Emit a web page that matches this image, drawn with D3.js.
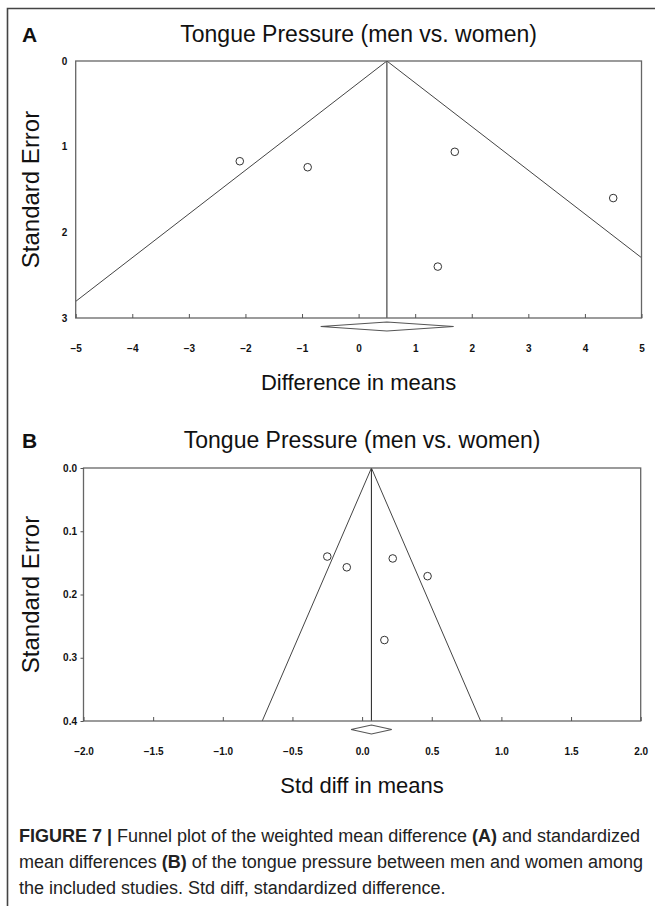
<!DOCTYPE html>
<html><head><meta charset="utf-8">
<script src="https://cdn.jsdelivr.net/npm/d3@7/dist/d3.min.js"></script>
<style>
html,body{margin:0;padding:0;background:#fff;}
svg{display:block;}
</style></head>
<body>
<svg id="chart" width="655" height="906"></svg>
<script>
// ---------- data ----------
const titleText = "Tongue Pressure (men vs. women)";
// Panel A: difference in means
const aTicksX = [-5, -4, -3, -2, -1, 0, 1, 2, 3, 4, 5];
const aTicksY = [0, 1, 2, 3];
const aEffect = [-2.1, -0.9, 1.7, 4.5, 1.4];
const aSE = [1.17, 1.24, 1.06, 1.60, 2.40];
const aMean = 0.5;
const aCI = [-0.67, 1.68];
// Panel B: standardized difference in means
const bTicksX = [-2.0, -1.5, -1.0, -0.5, 0.0, 0.5, 1.0, 1.5, 2.0];
const bTicksY = [0.0, 0.1, 0.2, 0.3, 0.4];
const bEffect = [-0.25, -0.11, 0.22, 0.47, 0.16];
const bSE = [0.140, 0.157, 0.143, 0.171, 0.272];
const bMean = 0.067;
const bCI = [-0.079, 0.213];

const svg = d3.select("#chart");
const FONT = "'Liberation Sans', Arial, sans-serif";

// outer frame (top and left rules)
svg.append("path").attr("d", "M7.5,906 L7.5,8.5 L655,8.5")
  .attr("fill", "none").attr("stroke", "#444").attr("stroke-width", 1.6);

function panel(cfg) {
  const g = svg.append("g");
  const x = d3.scaleLinear().domain(cfg.xDomain).range([cfg.left, cfg.right]);
  const y = d3.scaleLinear().domain(cfg.yDomain).range([cfg.top, cfg.bottom]);

  // panel letter
  g.append("text").attr("x", 22).attr("y", cfg.titleY)
    .attr("font-family", FONT).attr("font-weight", 700).attr("font-size", 21)
    .attr("fill", "#111").text(cfg.letter);
  // title
  g.append("text").attr("x", (cfg.left + cfg.right) / 2).attr("y", cfg.titleY)
    .attr("text-anchor", "middle").attr("font-family", FONT).attr("font-size", 23)
    .attr("fill", "#111").text(titleText);

  // clip
  const cid = "clip" + cfg.letter;
  svg.append("clipPath").attr("id", cid).append("rect")
    .attr("x", cfg.left).attr("y", cfg.top)
    .attr("width", cfg.right - cfg.left).attr("height", cfg.bottom - cfg.top);

  // funnel lines
  const ymax = cfg.yDomain[1];
  const fun = g.append("g").attr("clip-path", `url(#${cid})`);
  [-1, 1].forEach(s => {
    fun.append("line")
      .attr("x1", x(cfg.mean)).attr("y1", y(0))
      .attr("x2", x(cfg.mean + s * 1.96 * ymax)).attr("y2", y(ymax))
      .attr("stroke", "#444").attr("stroke-width", 1);
  });
  // mean line
  g.append("line").attr("x1", x(cfg.mean)).attr("x2", x(cfg.mean))
    .attr("y1", y(0)).attr("y2", y(ymax)).attr("stroke", "#333").attr("stroke-width", 1.1);

  // box
  g.append("rect").attr("x", cfg.left).attr("y", cfg.top)
    .attr("width", cfg.right - cfg.left).attr("height", cfg.bottom - cfg.top)
    .attr("fill", "none").attr("stroke", "#666").attr("stroke-width", 1.3);

  // x axis
  const xa = g.append("g").attr("transform", `translate(0,${cfg.bottom})`)
    .call(d3.axisBottom(x).tickValues(cfg.xTicks).tickFormat(cfg.xFmt)
      .tickSizeInner(-4).tickSizeOuter(0).tickPadding(27));
  xa.select(".domain").remove();
  xa.selectAll("line").attr("stroke", "#555");
  xa.selectAll("text").attr("font-family", FONT).attr("font-weight", 700)
    .attr("font-size", 10).attr("fill", "#111");

  // y axis
  const ya = g.append("g").attr("transform", `translate(${cfg.left},0)`)
    .call(d3.axisLeft(y).tickValues(cfg.yTicks).tickFormat(cfg.yFmt)
      .tickSizeInner(cfg.yTick).tickSizeOuter(0).tickPadding(cfg.yPad));
  ya.select(".domain").remove();
  ya.selectAll("line").attr("stroke", "#555");
  ya.selectAll("text").attr("font-family", FONT).attr("font-weight", 700)
    .attr("font-size", 10).attr("fill", "#111");

  // axis titles
  g.append("text").attr("x", (cfg.left + cfg.right) / 2).attr("y", cfg.bottom + 72)
    .attr("text-anchor", "middle").attr("font-family", FONT).attr("font-size", 22)
    .attr("fill", "#111").text(cfg.xLabel);
  g.append("text")
    .attr("transform", `translate(39,${(cfg.top + cfg.bottom) / 2}) rotate(-90)`)
    .attr("text-anchor", "middle").attr("font-family", FONT).attr("font-size", 24)
    .attr("fill", "#111").text("Standard Error");

  // points
  g.selectAll("circle.pt").data(cfg.effect.map((e, i) => [e, cfg.se[i]]))
    .join("circle").attr("class", "pt")
    .attr("cx", d => x(d[0])).attr("cy", d => y(d[1])).attr("r", 3.8)
    .attr("fill", "#fff").attr("stroke", "#333").attr("stroke-width", 1);

  // summary diamond
  const dy = cfg.bottom + 8.5, h = 4.5;
  g.append("path")
    .attr("d", `M${x(cfg.ci[0])},${dy} L${x(cfg.mean)},${dy - h} L${x(cfg.ci[1])},${dy} L${x(cfg.mean)},${dy + h} Z`)
    .attr("fill", "#fff").attr("stroke", "#555").attr("stroke-width", 1.2);
}

panel({
  letter: "A", titleY: 42,
  left: 75.7, right: 641.5, top: 61, bottom: 318,
  xDomain: [-5, 5], yDomain: [0, 3],
  xTicks: aTicksX, yTicks: aTicksY,
  xFmt: d3.format("d"), yFmt: d3.format("d"),
  yTick: 0, yPad: 8.5,
  mean: aMean, ci: aCI, effect: aEffect, se: aSE,
  xLabel: "Difference in means"
});
panel({
  letter: "B", titleY: 448,
  left: 83.5, right: 640.7, top: 468, bottom: 721,
  xDomain: [-2, 2], yDomain: [0, 0.4],
  xTicks: bTicksX, yTicks: bTicksY,
  xFmt: d3.format(".1f"), yFmt: d3.format(".1f"),
  yTick: 3, yPad: 3.5,
  mean: bMean, ci: bCI, effect: bEffect, se: bSE,
  xLabel: "Std diff in means"
});

// caption
const capLines = [
  [["FIGURE 7 | ", true], ["Funnel plot of the weighted mean difference ", false], ["(A)", true], [" and standardized", false]],
  [["mean differences ", false], ["(B)", true], [" of the tongue pressure between men and women among", false]],
  [["the included studies. Std diff, standardized difference.", false]]
];
const capY = [842, 868, 894];
capLines.forEach((line, i) => {
  const t = svg.append("text").attr("x", 19).attr("y", capY[i])
    .attr("font-family", FONT).attr("font-size", 18).attr("fill", "#222");
  line.forEach(([s, b]) => t.append("tspan").attr("font-weight", b ? 700 : 400).text(s));
});
</script>
</body></html>
